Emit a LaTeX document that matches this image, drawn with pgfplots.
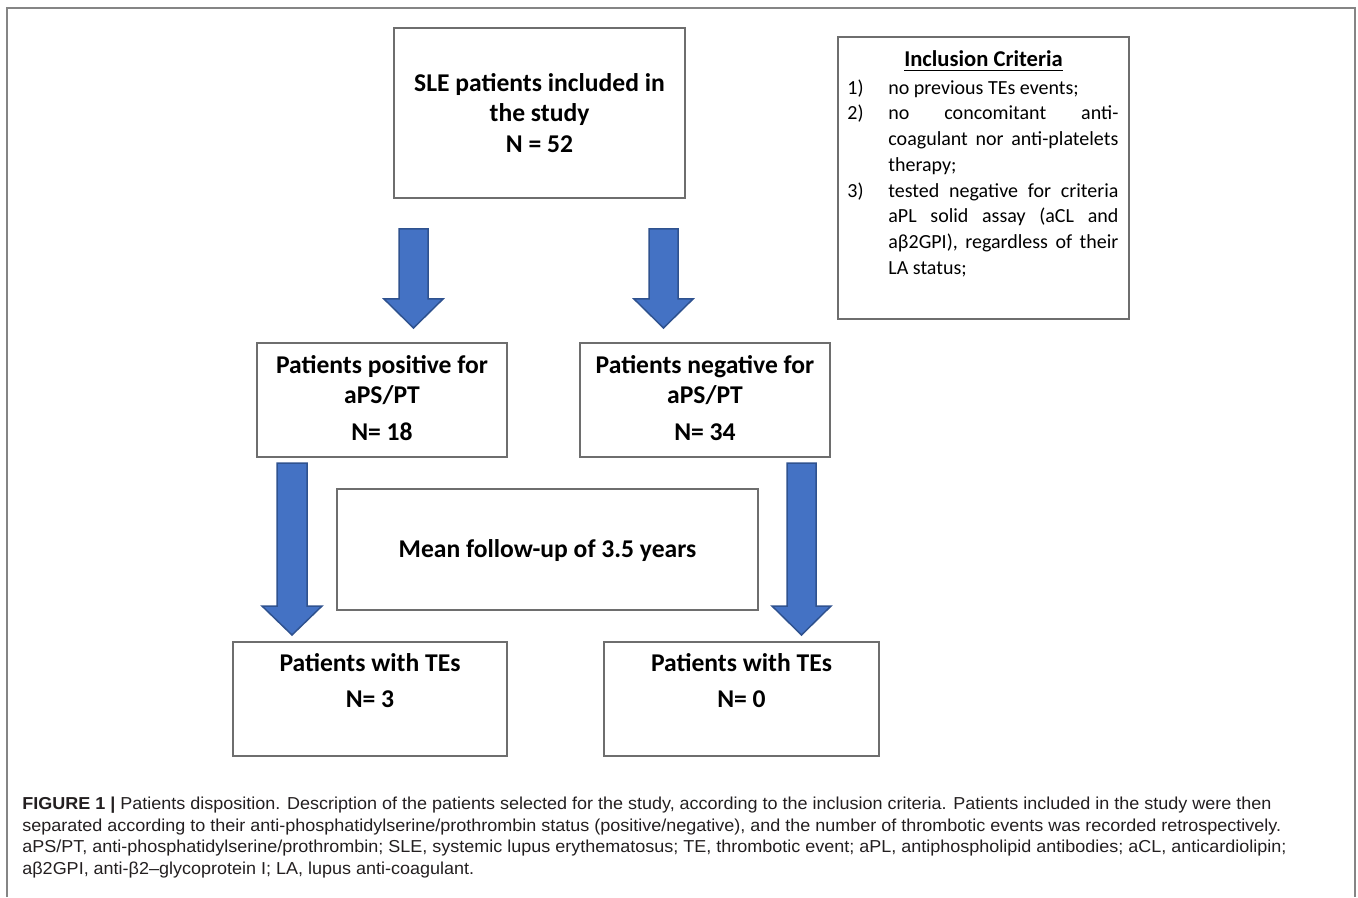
\documentclass[border=0pt]{standalone}
\usepackage{pgfplots}
\pgfplotsset{compat=1.18}
\usepackage{fontspec}
\setmainfont{Carlito}
\newfontfamily\capfont[FakeStretch=1.04]{Liberation Sans}
\definecolor{boxgray}{HTML}{6E6E6E}
\definecolor{framegray}{HTML}{858585}
\definecolor{arrowfill}{HTML}{4472C4}
\definecolor{arrowedge}{HTML}{2F528F}
\definecolor{captext}{HTML}{231F20}
\newcommand\bx{\fontsize{12.8}{15}\selectfont\bfseries}
\newcommand\itm{\fontsize{10}{12}\selectfont}
\newcommand\ti{\fontsize{11.3}{13}\selectfont\bfseries}
\newcommand\cp{\capfont\fontsize{8.65}{10}\selectfont\color{captext}}
\begin{document}
\begin{tikzpicture}
\begin{axis}[x=0.5pt,y=0.5pt,xmin=0,xmax=1358,ymin=0,ymax=897,y dir=reverse,
  hide axis,clip=false,
  boxs/.style={draw=boxgray,line width=0.75pt,no marks},
  arr/.style={draw=arrowedge,fill=arrowfill,line width=0.75pt,no marks,line join=miter}]
% full canvas (invisible)
\addplot[draw=none,no marks] coordinates {(0,0) (1358,0) (1358,897) (0,897)};
% outer frame
\addplot[draw=framegray,line width=1pt,no marks] coordinates {(7,897) (7,8) (1355,8) (1355,897)};
% boxes
\addplot[boxs] coordinates {(394,28) (685,28) (685,198) (394,198)} --cycle;
\addplot[boxs] coordinates {(838,37) (1129,37) (1129,319) (838,319)} --cycle;
\addplot[boxs] coordinates {(257,343) (507,343) (507,457) (257,457)} --cycle;
\addplot[boxs] coordinates {(580,343) (830,343) (830,457) (580,457)} --cycle;
\addplot[boxs] coordinates {(337,489) (758,489) (758,610) (337,610)} --cycle;
\addplot[boxs] coordinates {(233,642) (507,642) (507,756) (233,756)} --cycle;
\addplot[boxs] coordinates {(604,642) (879,642) (879,756) (604,756)} --cycle;
% arrows
\addplot[arr] coordinates {(399,229) (428,229) (428,299) (443,299) (413.5,328) (384,299) (399,299)} --cycle;
\addplot[arr] coordinates {(649,229) (678,229) (678,299) (693,299) (663.5,328) (634,299) (649,299)} --cycle;
\addplot[arr] coordinates {(277,463) (307,463) (307,606) (322,606) (292,635) (262,606) (277,606)} --cycle;
\addplot[arr] coordinates {(787,463) (816,463) (816,606) (831,606) (801.5,635) (772,606) (787,606)} --cycle;
% box texts
\node[anchor=base,font=\bx] at (axis cs:539.5,92) {SLE patients included in};
\node[anchor=base,font=\bx] at (axis cs:539.5,122) {the study};
\node[anchor=base,font=\bx] at (axis cs:539.5,153) {N = 52};
\node[anchor=base,font=\bx] at (axis cs:382,373) {Patients positive for};
\node[anchor=base,font=\bx] at (axis cs:382,403) {aPS/PT};
\node[anchor=base,font=\bx] at (axis cs:382,440) {N= 18};
\node[anchor=base,font=\bx] at (axis cs:705,373) {Patients negative for};
\node[anchor=base,font=\bx] at (axis cs:705,403) {aPS/PT};
\node[anchor=base,font=\bx] at (axis cs:705,440) {N= 34};
\node[anchor=base,font=\bx] at (axis cs:547.5,557) {Mean follow-up of 3.5 years};
\node[anchor=base,font=\bx] at (axis cs:370,671) {Patients with TEs};
\node[anchor=base,font=\bx] at (axis cs:370,707) {N= 3};
\node[anchor=base,font=\bx] at (axis cs:741.5,671) {Patients with TEs};
\node[anchor=base,font=\bx] at (axis cs:741.5,707) {N= 0};
% inclusion criteria
\node[anchor=base,font=\ti,inner sep=0pt] at (axis cs:983.5,67) {\underline{Inclusion Criteria}};
\node[anchor=base west,font=\itm,inner sep=0pt] at (axis cs:847,95) {1)};
\node[anchor=base west,font=\itm,inner sep=0pt] at (axis cs:847,120) {2)};
\node[anchor=base west,font=\itm,inner sep=0pt] at (axis cs:847,198) {3)};
\node[anchor=base west,font=\itm,inner sep=0pt] at (axis cs:888,95) {no previous TEs events;};
\node[anchor=base west,font=\itm,inner sep=0pt] at (axis cs:888,120) {\makebox[115pt][s]{no concomitant anti-}};
\node[anchor=base west,font=\itm,inner sep=0pt] at (axis cs:888,146) {\makebox[115pt][s]{coagulant nor anti-platelets}};
\node[anchor=base west,font=\itm,inner sep=0pt] at (axis cs:888,172) {therapy;};
\node[anchor=base west,font=\itm,inner sep=0pt] at (axis cs:888,198) {\makebox[115pt][s]{tested negative for criteria}};
\node[anchor=base west,font=\itm,inner sep=0pt] at (axis cs:888,223) {\makebox[115pt][s]{aPL solid assay (aCL and}};
\node[anchor=base west,font=\itm,inner sep=0pt] at (axis cs:888,249) {\makebox[115pt][s]{aβ2GPI), regardless of their}};
\node[anchor=base west,font=\itm,inner sep=0pt] at (axis cs:888,275) {LA status;};
% caption
\node[anchor=base west,font=\cp,inner sep=0pt] at (axis cs:22,809) {{\bfseries FIGURE 1 |} Patients disposition. Description of the patients selected for the study, according to the inclusion criteria. Patients included in the study were then};
\node[anchor=base west,font=\cp,inner sep=0pt] at (axis cs:22,831) {separated according to their anti-phosphatidylserine/prothrombin status (positive/negative), and the number of thrombotic events was recorded retrospectively.};
\node[anchor=base west,font=\cp,inner sep=0pt] at (axis cs:22,852) {aPS/PT, anti-phosphatidylserine/prothrombin; SLE, systemic lupus erythematosus; TE, thrombotic event; aPL, antiphospholipid antibodies; aCL, anticardiolipin;};
\node[anchor=base west,font=\cp,inner sep=0pt] at (axis cs:22,874) {aβ2GPI, anti-β2–glycoprotein I; LA, lupus anti-coagulant.};
\end{axis}
\end{tikzpicture}
\end{document}
